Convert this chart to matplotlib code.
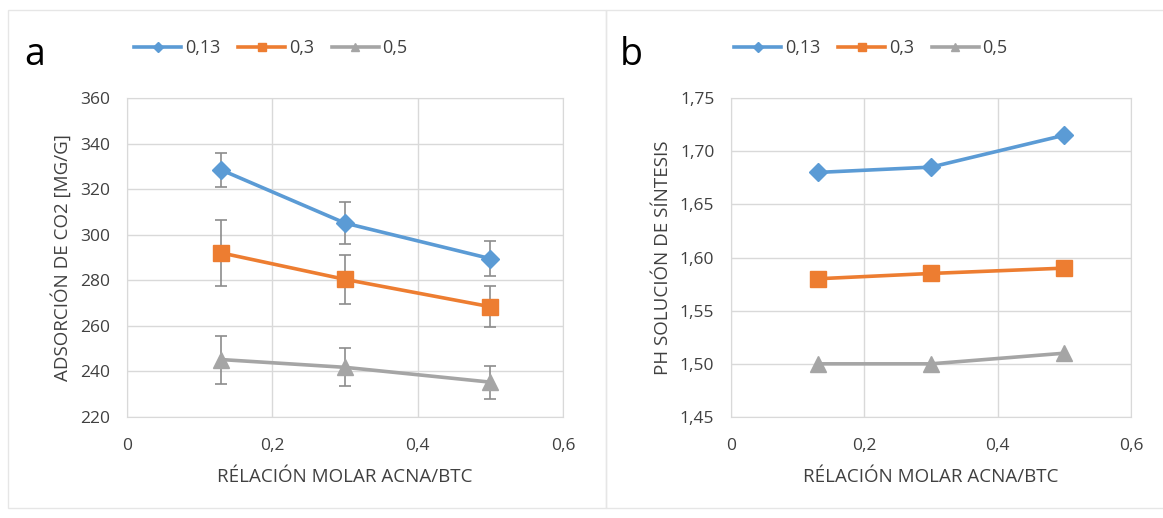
import matplotlib.pyplot as plt
from matplotlib.patches import Rectangle
from matplotlib.ticker import FuncFormatter, MultipleLocator

plt.rcParams['font.family'] = ['Open Sans', 'DejaVu Sans']

# Data
ratio = [0.13, 0.3, 0.5]
series = ['0,13', '0,3', '0,5']

adsorption = {
    '0,13': [328.4, 305.1, 289.5],
    '0,3': [292.0, 280.4, 268.4],
    '0,5': [245.2, 241.8, 235.3],
}
adsorption_err = {
    '0,13': [7.4, 9.3, 7.7],
    '0,3': [14.4, 10.8, 9.0],
    '0,5': [10.5, 8.4, 7.2],
}
ph = {
    '0,13': [1.68, 1.685, 1.715],
    '0,3': [1.58, 1.585, 1.59],
    '0,5': [1.50, 1.50, 1.51],
}

colors = {'0,13': '#5B9BD5', '0,3': '#ED7D31', '0,5': '#A5A5A5'}
markers = {'0,13': 'D', '0,3': 's', '0,5': '^'}
msizes = {'0,13': 9, '0,3': 11, '0,5': 11}
grid_c = '#D9D9D9'
text_c = '#404040'


def comma(dec):
    return FuncFormatter(lambda v, p: (f'{v:.{dec}f}'.replace('.', ',') if v != 0 else '0'))


fig = plt.figure(figsize=(11.63, 5.18), dpi=100)

# panel frames
fig.patches.append(Rectangle((8 / 1163, 10 / 518), 598 / 1163, 498 / 518, transform=fig.transFigure,
                             fill=False, edgecolor='#E6E6E6', lw=1))
fig.patches.append(Rectangle((606 / 1163, 10 / 518), 560 / 1163, 498 / 518, transform=fig.transFigure,
                             fill=False, edgecolor='#E6E6E6', lw=1))

ax_a = fig.add_axes([127 / 1163, 101 / 518, 436 / 1163, 319 / 518])
ax_b = fig.add_axes([731 / 1163, 101 / 518, 400 / 1163, 319 / 518])

for s in series:
    ax_a.errorbar(ratio, adsorption[s], yerr=adsorption_err[s], color=colors[s], lw=2.6,
                  marker=markers[s], ms=msizes[s], ecolor='#8C8C8C', elinewidth=1.2,
                  capsize=4.3, capthick=1.2, label=s, zorder=3)
    ax_b.plot(ratio, ph[s], color=colors[s], lw=2.6, marker=markers[s], ms=msizes[s],
              label=s, zorder=3)

ax_a.set_ylim(220, 360)
ax_a.yaxis.set_major_locator(MultipleLocator(20))
ax_a.yaxis.set_major_formatter(comma(0))
ax_a.set_ylabel('ADSORCIÓN DE CO2 [MG/G]', fontsize=13.5, color=text_c, labelpad=6)

ax_b.set_ylim(1.45, 1.75)
ax_b.yaxis.set_major_locator(MultipleLocator(0.05))
ax_b.yaxis.set_major_formatter(comma(2))
ax_b.set_ylabel('PH SOLUCIÓN DE SÍNTESIS', fontsize=13.5, color=text_c, labelpad=6)

for ax, letter, lx, leg_x in [(ax_a, 'a', -0.213, 0.33), (ax_b, 'b', -0.25, 0.35)]:
    ax.set_xlim(0, 0.6)
    ax.xaxis.set_major_locator(MultipleLocator(0.2))
    ax.xaxis.set_major_formatter(comma(1))
    ax.set_xlabel('RÉLACIÓN MOLAR ACNA/BTC', fontsize=13.5, color=text_c, labelpad=10)
    ax.grid(True, color=grid_c, lw=1)
    ax.set_axisbelow(True)
    for sp in ax.spines.values():
        sp.set_color(grid_c)
    ax.tick_params(axis='y', length=0, labelsize=12.5, labelcolor=text_c, pad=12)
    ax.tick_params(axis='x', length=0, labelsize=12.5, labelcolor=text_c, pad=15)
    handles, labels = ax.get_legend_handles_labels()
    if ax is ax_a:
        handles = [h[0] for h in handles]
    ax.legend(handles, labels, loc='center', bbox_to_anchor=(leg_x, 1.157), ncol=3,
              frameon=False, fontsize=13, markerscale=0.55, handlelength=2.6,
              columnspacing=1.0, handletextpad=0.2, labelcolor=text_c)
    ax.text(lx, 1.103, letter, transform=ax.transAxes, fontsize=27, color='black',
            va='baseline', ha='center')

fig.savefig('out.png', dpi=100)
